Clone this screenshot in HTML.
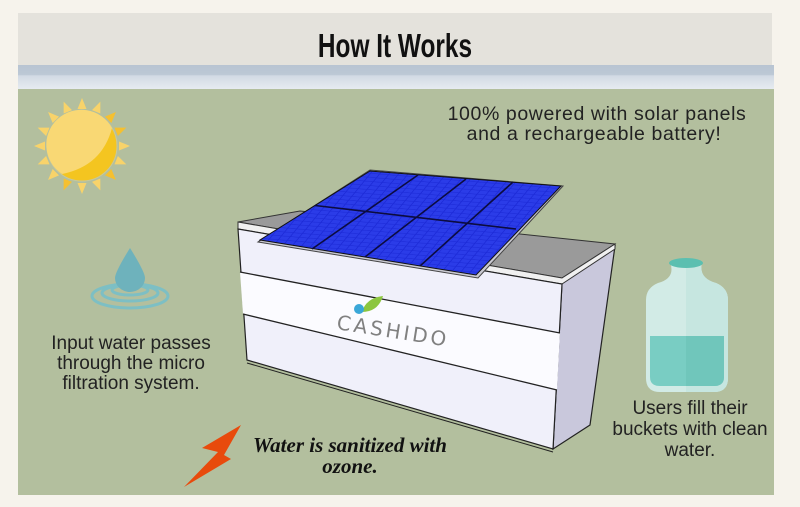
<!DOCTYPE html>
<html><head><meta charset="utf-8"><style>
html,body{margin:0;padding:0;background:#f6f3ec;width:800px;height:507px;overflow:hidden}
svg{display:block}
</style></head><body>
<svg width="800" height="507" viewBox="0 0 800 507" xmlns="http://www.w3.org/2000/svg">
<defs>
<linearGradient id="band" x1="0" y1="0" x2="0" y2="1">
<stop offset="0" stop-color="#b8c4d2"/><stop offset="0.4" stop-color="#bcc8d5"/><stop offset="0.45" stop-color="#d2dae4"/><stop offset="1" stop-color="#e6ebf0"/></linearGradient>
<pattern id="cells" width="9" height="7" patternUnits="userSpaceOnUse" patternTransform="matrix(0.99 0.08 -0.45 0.55 0 0)">
<rect width="9" height="7" fill="#1d2bd8"/><rect x="0" y="0" width="8" height="6" fill="#2b3ce8"/></pattern>
</defs>
<rect x="18" y="13" width="754" height="53" fill="#e4e2dc"/>
<text x="395" y="57" text-anchor="middle" font-family="Liberation Sans Narrow, Liberation Sans, sans-serif" font-weight="bold" font-size="33" transform="translate(395 0) scale(0.74 1) translate(-395 0)" fill="#111">How It Works</text>
<rect x="18" y="65" width="756" height="24" fill="url(#band)"/>
<rect x="18" y="89" width="756" height="406" fill="#b3bf9e"/>
<!-- sun -->
<g transform="translate(82,146)">
<g fill="#f8d36a">
<polygon points="-4.5,-37 0,-48 4.5,-37"/><polygon points="-4.5,-37 0,-48 4.5,-37" transform="rotate(22.5)"/><polygon points="-4.5,-37 0,-48 4.5,-37" transform="rotate(45)" fill="#f5c030"/><polygon points="-4.5,-37 0,-48 4.5,-37" transform="rotate(67.5)" fill="#f5c030"/><polygon points="-4.5,-37 0,-48 4.5,-37" transform="rotate(90)"/><polygon points="-4.5,-37 0,-48 4.5,-37" transform="rotate(112.5)"/><polygon points="-4.5,-37 0,-48 4.5,-37" transform="rotate(135)" fill="#f5c030"/><polygon points="-4.5,-37 0,-48 4.5,-37" transform="rotate(157.5)"/><polygon points="-4.5,-37 0,-48 4.5,-37" transform="rotate(180)"/><polygon points="-4.5,-37 0,-48 4.5,-37" transform="rotate(202.5)" fill="#f5c030"/><polygon points="-4.5,-37 0,-48 4.5,-37" transform="rotate(225)"/><polygon points="-4.5,-37 0,-48 4.5,-37" transform="rotate(247.5)"/><polygon points="-4.5,-37 0,-48 4.5,-37" transform="rotate(270)"/><polygon points="-4.5,-37 0,-48 4.5,-37" transform="rotate(292.5)"/><polygon points="-4.5,-37 0,-48 4.5,-37" transform="rotate(315)"/><polygon points="-4.5,-37 0,-48 4.5,-37" transform="rotate(337.5)"/>
</g>
<circle r="35" fill="#f4c520" stroke="#c9c89a" stroke-width="1"/>
<path d="M-20,28 A35,35 0 1 1 30,-18 Q20,20 -20,28 Z" fill="#f9d874"/>
</g>
<!-- water drop -->
<g>
<ellipse cx="130" cy="296" rx="38" ry="12" fill="none" stroke="#7dbfc4" stroke-width="3"/>
<ellipse cx="130" cy="293" rx="28" ry="8" fill="none" stroke="#7dbfc4" stroke-width="3"/>
<ellipse cx="130" cy="290" rx="18" ry="5" fill="none" stroke="#7dbfc4" stroke-width="3"/>
<path d="M130,248 Q145,272 145,278 A15,14 0 0 1 115,278 Q115,272 130,248 Z" fill="#6eb2bc"/>
</g>
<text font-family="Liberation Sans, sans-serif" font-size="19" fill="#222" text-anchor="middle">
<tspan x="131" y="349">Input water passes</tspan><tspan x="131" y="369">through the micro</tspan><tspan x="131" y="389">filtration system.</tspan></text>
<text font-family="Liberation Sans, sans-serif" font-size="19.5" fill="#222" text-anchor="middle" letter-spacing="0.6">
<tspan x="597" y="120">100% powered with solar panels</tspan><tspan x="594" y="140">and a rechargeable battery!</tspan></text>
<!-- box -->
<polygon points="562,283 615,246 590,425 553,449" fill="#c9c8dc" stroke="#222" stroke-width="1.2"/>
<polygon points="238,222 300,211 615,244 562,278" fill="#9a9a9a" stroke="#333" stroke-width="1"/>
<polygon points="238,222 562,278 615,244 615,249 562,284 238,229" fill="#f0f0f0" stroke="#333" stroke-width="1"/>
<polygon points="238,229 562,284 553,449 247,360" fill="#f0f0fa" stroke="#222" stroke-width="1.2"/>
<polygon points="240,272 560,333 557,390 243,314" fill="#fbfbff"/>
<line x1="240" y1="272" x2="560" y2="333" stroke="#222" stroke-width="1.3"/>
<line x1="243" y1="314" x2="557" y2="390" stroke="#222" stroke-width="1.3"/>
<line x1="247" y1="363" x2="553" y2="452" stroke="#222" stroke-width="1"/>
<!-- logo -->
<path d="M362,312 Q366,298 383,296 Q378,312 362,312 Z" fill="#8cc63f"/>
<circle cx="359" cy="309" r="5" fill="#3aa7d8"/>
<text x="0" y="0" font-family="DejaVu Sans, sans-serif" font-size="20" fill="#808080" letter-spacing="3" transform="translate(336,329) rotate(9)">CASHIDO</text>
<!-- solar panel -->
<polygon points="258,242 478,278 563,186 370,170" fill="#c8c8d0" stroke="#444" stroke-width="1"/>
<polygon points="260,240 476,275 561,186 370,171" fill="url(#cells)" stroke="#111" stroke-width="1"/>
<g stroke="#0c0c40" stroke-width="1.6">
<line x1="315" y1="205.5" x2="516" y2="229"/>
<line x1="312" y1="249" x2="418" y2="175"/>
<line x1="365" y1="257" x2="466" y2="179"/>
<line x1="420" y1="266" x2="513" y2="182"/>
</g>
<!-- bottle -->
<g>
<path d="M670,262 L702,262 Q698,278 716,283 Q728,288 728,300 L728,378 Q728,392 714,392 L660,392 Q646,392 646,378 L646,300 Q646,288 658,283 Q676,278 670,262 Z" fill="#d2ebe6"/>
<path d="M686,262 L702,262 Q698,278 716,283 Q728,288 728,300 L728,378 Q728,392 714,392 L686,392 Z" fill="#c6e6e0"/>
<path d="M650,336 L724,336 L724,377 Q724,386 714,386 L660,386 Q650,386 650,377 Z" fill="#79cdc3"/>
<path d="M686,336 L724,336 L724,377 Q724,386 714,386 L686,386 Z" fill="#70c6bb"/>
<ellipse cx="686" cy="263" rx="17" ry="5" fill="#5bbfb0"/>
</g>
<text font-family="Liberation Sans, sans-serif" font-size="19" fill="#222" text-anchor="middle">
<tspan x="690" y="414">Users fill their</tspan><tspan x="690" y="435">buckets with clean</tspan><tspan x="690" y="456">water.</tspan></text>
<!-- bolt -->
<polygon points="241,425 202,448 218,452 184,487 231,459 224,455" fill="#e84a0c"/>
<text font-family="Liberation Serif, serif" font-style="italic" font-weight="bold" font-size="21" fill="#111" text-anchor="middle">
<tspan x="350" y="452">Water is sanitized with</tspan><tspan x="350" y="473">ozone.</tspan></text>
</svg>
</body></html>
